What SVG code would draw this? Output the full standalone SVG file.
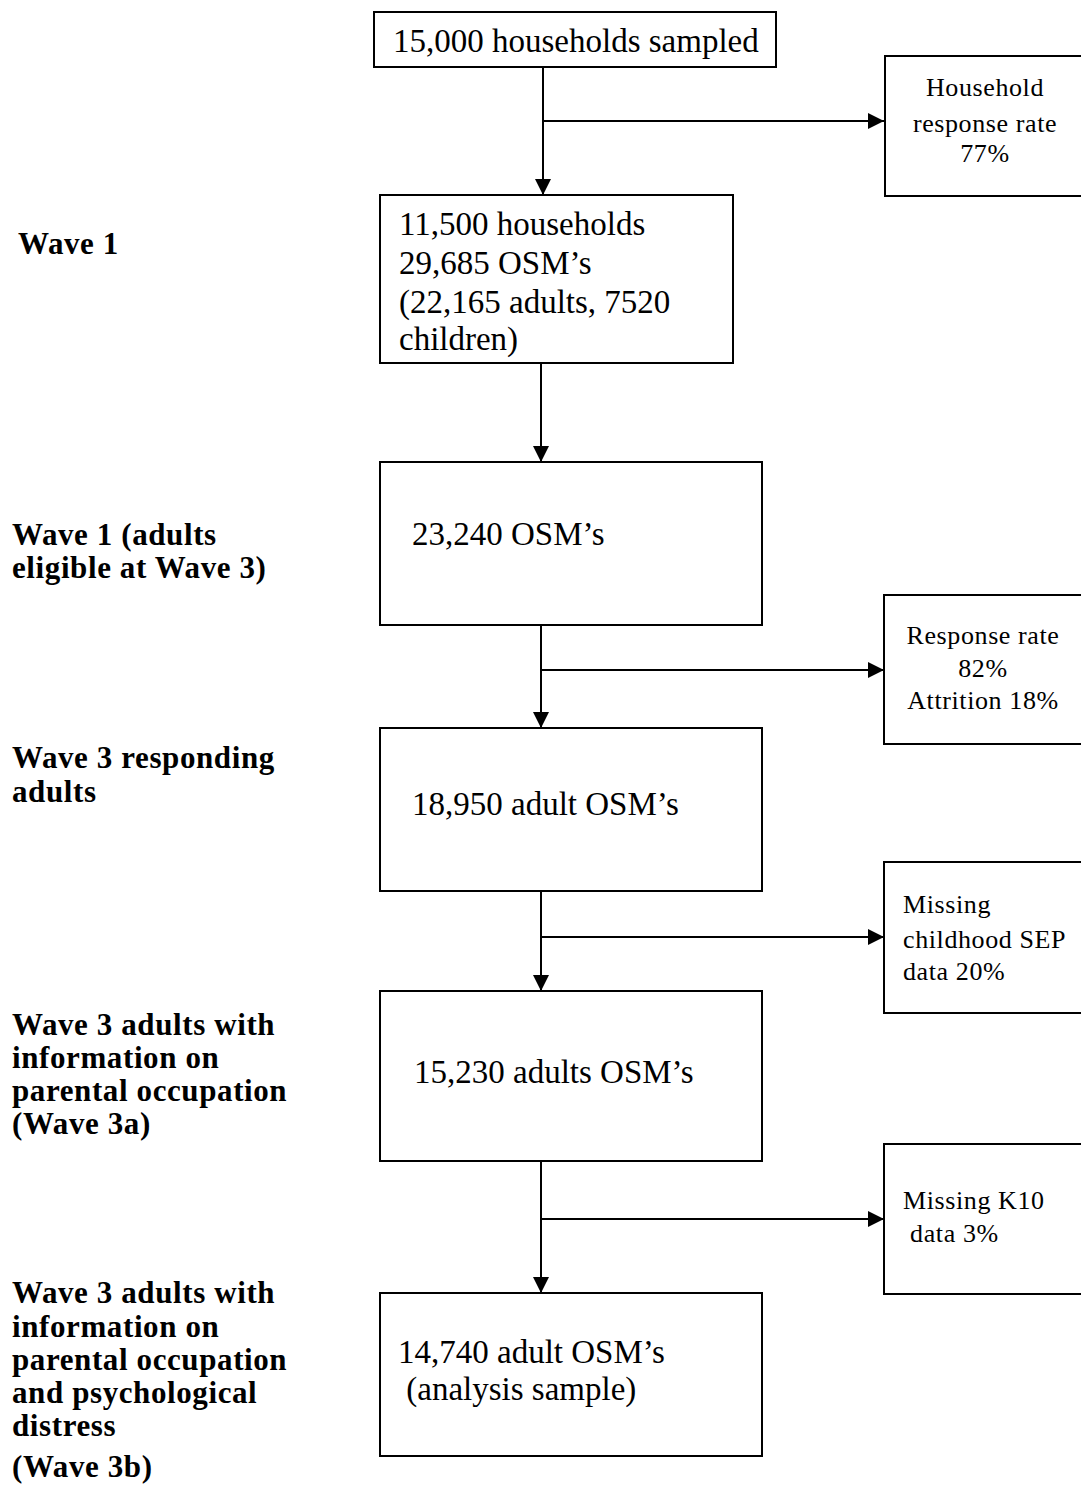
<svg xmlns="http://www.w3.org/2000/svg" width="1081" height="1495" viewBox="0 0 1081 1495">
  <style>
    .box { fill: #fff; stroke: #000; stroke-width: 2; }
    .main { font-family: "Liberation Serif", "Times New Roman", serif; font-size: 33px; fill: #000; }
    .side { font-family: "Liberation Serif", "Times New Roman", serif; font-size: 26px; letter-spacing: 0.6px; fill: #000; }
    .label { font-family: "Liberation Serif", "Times New Roman", serif; font-size: 31px; font-weight: bold; letter-spacing: 0.6px; fill: #000; }
    .conn { fill: none; stroke: #000; stroke-width: 2; }
  </style>
  <defs>
    <marker id="arrow" viewBox="0 0 10 10" refX="10" refY="5" markerWidth="8" markerHeight="8" markerUnits="strokeWidth" orient="auto">
      <path d="M0,0 L10,5 L0,10 Z" fill="#000"/>
    </marker>
  </defs>
  <rect width="1081" height="1495" fill="#fff"/>

  <!-- stage labels -->
  <g id="labels">
    <text class="label" x="18" y="254">Wave 1</text>
    <text class="label" x="12" y="545">Wave 1 (adults</text>
    <text class="label" x="12" y="578">eligible at Wave 3)</text>
    <text class="label" x="12" y="768">Wave 3 responding</text>
    <text class="label" x="12" y="802">adults</text>
    <text class="label" x="12" y="1035">Wave 3 adults with</text>
    <text class="label" x="12" y="1068">information on</text>
    <text class="label" x="12" y="1101">parental occupation</text>
    <text class="label" x="12" y="1134">(Wave 3a)</text>
    <text class="label" x="12" y="1303">Wave 3 adults with</text>
    <text class="label" x="12" y="1337">information on</text>
    <text class="label" x="12" y="1370">parental occupation</text>
    <text class="label" x="12" y="1403">and psychological</text>
    <text class="label" x="12" y="1436">distress</text>
    <text class="label" x="12" y="1477">(Wave 3b)</text>
  </g>

  <!-- connectors -->
  <g id="connectors">
    <line class="conn" x1="543" y1="67" x2="543" y2="195" marker-end="url(#arrow)"/>
    <line class="conn" x1="543" y1="121" x2="884" y2="121" marker-end="url(#arrow)"/>
    <line class="conn" x1="541" y1="363" x2="541" y2="462" marker-end="url(#arrow)"/>
    <line class="conn" x1="541" y1="625" x2="541" y2="728" marker-end="url(#arrow)"/>
    <line class="conn" x1="541" y1="670" x2="884" y2="670" marker-end="url(#arrow)"/>
    <line class="conn" x1="541" y1="891" x2="541" y2="991" marker-end="url(#arrow)"/>
    <line class="conn" x1="541" y1="937" x2="884" y2="937" marker-end="url(#arrow)"/>
    <line class="conn" x1="541" y1="1161" x2="541" y2="1293" marker-end="url(#arrow)"/>
    <line class="conn" x1="541" y1="1219" x2="884" y2="1219" marker-end="url(#arrow)"/>
  </g>

  <g id="sampled">
    <rect class="box" x="374" y="12" width="402" height="55"/>
    <text class="main" x="393" y="52">15,000 households sampled</text>
  </g>

  <g id="household-response">
    <rect class="box" x="885" y="56" width="210" height="140"/>
    <text class="side" x="985" y="96" text-anchor="middle">Household</text>
    <text class="side" x="985" y="132" text-anchor="middle">response rate</text>
    <text class="side" x="985" y="162" text-anchor="middle">77%</text>
  </g>

  <g id="wave1">
    <rect class="box" x="380" y="195" width="353" height="168"/>
    <text class="main" x="399" y="235">11,500 households</text>
    <text class="main" x="399" y="274">29,685 OSM’s</text>
    <text class="main" x="399" y="313">(22,165 adults, 7520</text>
    <text class="main" x="399" y="350">children)</text>
  </g>

  <g id="wave1-eligible">
    <rect class="box" x="380" y="462" width="382" height="163"/>
    <text class="main" x="412" y="545">23,240 OSM’s</text>
  </g>

  <g id="response-attrition">
    <rect class="box" x="884" y="595" width="210" height="149"/>
    <text class="side" x="983" y="644" text-anchor="middle">Response rate</text>
    <text class="side" x="983" y="677" text-anchor="middle">82%</text>
    <text class="side" x="983" y="709" text-anchor="middle">Attrition 18%</text>
  </g>

  <g id="wave3-responding">
    <rect class="box" x="380" y="728" width="382" height="163"/>
    <text class="main" x="412" y="815">18,950 adult OSM’s</text>
  </g>

  <g id="missing-sep">
    <rect class="box" x="884" y="862" width="210" height="151"/>
    <text class="side" x="903" y="913">Missing</text>
    <text class="side" x="903" y="948">childhood SEP</text>
    <text class="side" x="903" y="980">data 20%</text>
  </g>

  <g id="wave3a">
    <rect class="box" x="380" y="991" width="382" height="170"/>
    <text class="main" x="414" y="1083">15,230 adults OSM’s</text>
  </g>

  <g id="missing-k10">
    <rect class="box" x="884" y="1144" width="210" height="150"/>
    <text class="side" x="903" y="1209">Missing K10</text>
    <text class="side" x="903" y="1242" xml:space="preserve"> data 3%</text>
  </g>

  <g id="wave3b">
    <rect class="box" x="380" y="1293" width="382" height="163"/>
    <text class="main" x="398" y="1363">14,740 adult OSM’s</text>
    <text class="main" x="398" y="1400" xml:space="preserve"> (analysis sample)</text>
  </g>
</svg>
